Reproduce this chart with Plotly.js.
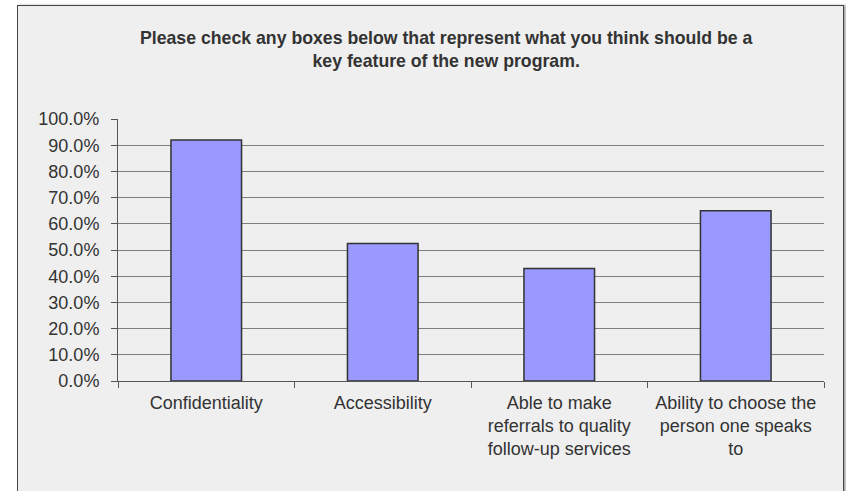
<!DOCTYPE html>
<html>
<head>
<meta charset="utf-8">
<script src="https://cdn.plot.ly/plotly-3.0.1.min.js"></script>
<style>
  html, body { margin: 0; padding: 0; background: #ffffff; overflow: hidden; }
  #frame { position: absolute; left: 17px; top: 5px; width: 825px; height: 490px;
           border: 1px solid #444; border-bottom: none; background: #efefef;
           box-shadow: 2px 0 2px #aaa; }
  #chart { width: 825px; height: 486px; }
</style>
</head>
<body>
<div id="frame"><div id="chart"></div></div>
<script>
const categories = [
  "Confidentiality",
  "Accessibility",
  "Able to make<br>referrals to quality<br>follow-up services",
  "Ability to choose the<br>person one speaks<br>to"
];
const values = [0.920, 0.525, 0.429, 0.650];
const yTicks = [0, 0.1, 0.2, 0.3, 0.4, 0.5, 0.6, 0.7, 0.8, 0.9, 1.0];
const titleText = "Please check any boxes below that represent what you think should be a<br>key feature of the new program.";

const trace = {
  type: "bar",
  x: categories,
  y: values,
  marker: { color: "#9999ff", line: { color: "#333333", width: 1.5 } },
  hoverinfo: "skip"
};

const layout = {
  width: 825,
  height: 486,
  paper_bgcolor: "#efefef",
  plot_bgcolor: "#efefef",
  margin: { l: 100, r: 19, t: 113, b: 111 },
  bargap: 0.6,
  showlegend: false,
  font: { family: "Liberation Sans, Arial, sans-serif", color: "#333333" },
  title: {
    text: titleText,
    font: { family: "Liberation Sans, Arial, sans-serif", size: 17.7, color: "#333333", weight: "bold" },
    x: 0.519, xanchor: "center", xref: "container",
    y: 0.922, yanchor: "top", yref: "container"
  },
  xaxis: {
    type: "category",
    showgrid: false,
    showline: true, linecolor: "#555555", linewidth: 1,
    ticks: "outside", tickson: "boundaries", ticklen: 6, tickcolor: "#555555",
    ticklabelstandoff: 5,
    tickfont: { size: 18, color: "#333333" },
    fixedrange: true
  },
  yaxis: {
    range: [0, 1],
    tickvals: yTicks,
    tickformat: ".1%",
    showgrid: true, gridcolor: "#7f7f7f", gridwidth: 1,
    showline: true, linecolor: "#555555", linewidth: 1,
    ticks: "outside", ticklen: 6, tickcolor: "#555555",
    ticklabelstandoff: 8,
    tickfont: { size: 18, color: "#333333" },
    zeroline: false,
    fixedrange: true
  }
};

Plotly.newPlot("chart", [trace], layout, { staticPlot: true, displayModeBar: false });
</script>
</body>
</html>
